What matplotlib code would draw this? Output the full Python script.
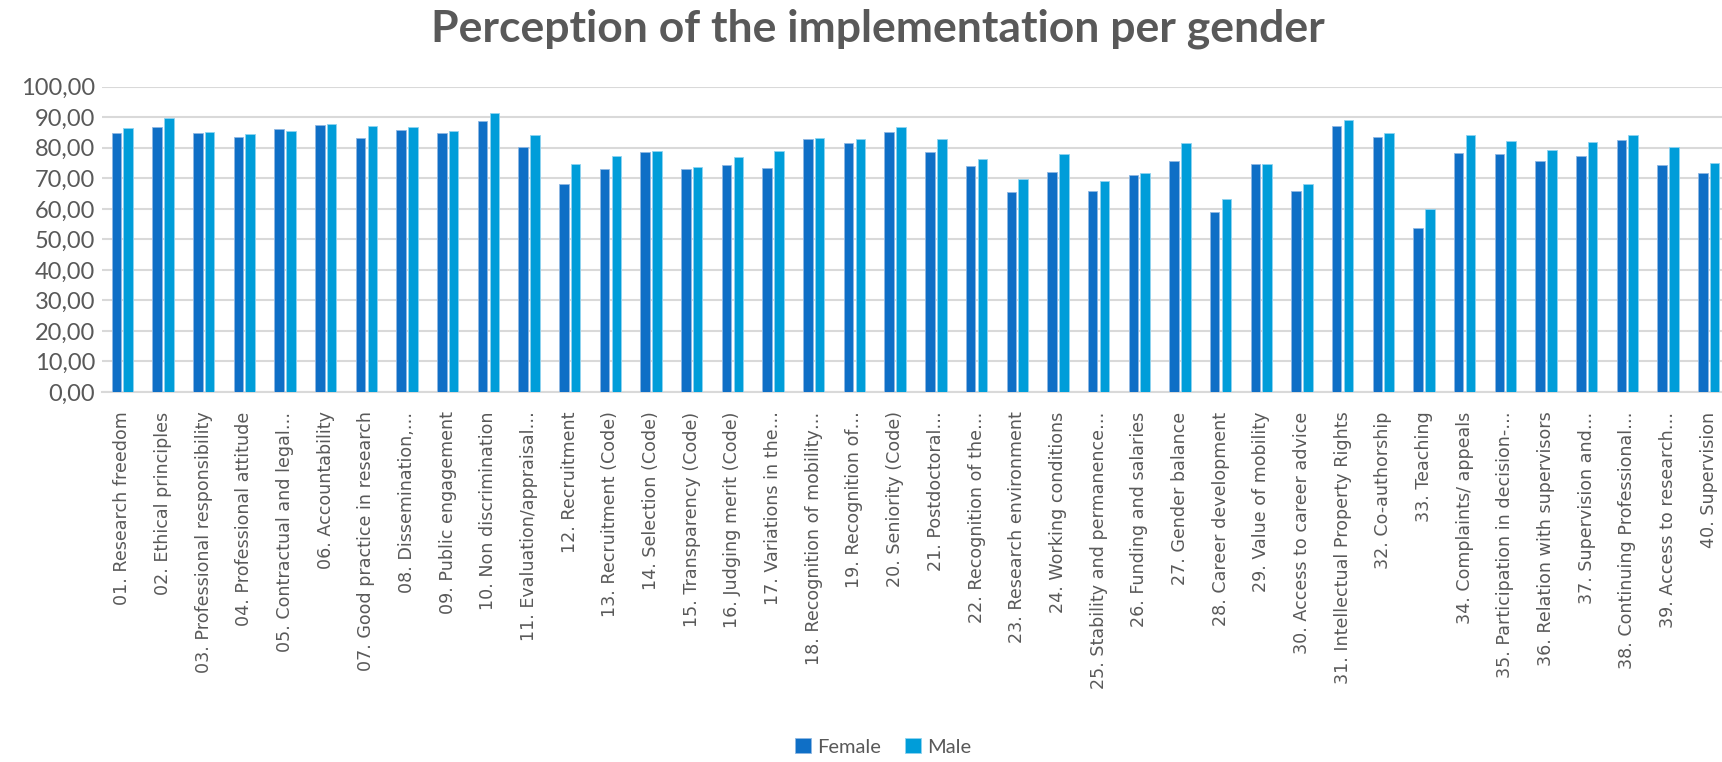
import matplotlib
matplotlib.use('Agg')
import matplotlib.pyplot as plt
import numpy as np

categories = [
    '01. Research freedom', '02. Ethical principles', '03. Professional responsibility',
    '04. Professional attitude', '05. Contractual and legal…', '06. Accountability',
    '07. Good practice in research', '08. Dissemination,…', '09. Public engagement',
    '10. Non discrimination', '11. Evaluation/appraisal…', '12. Recruitment',
    '13. Recruitment (Code)', '14. Selection (Code)', '15. Transparency (Code)',
    '16. Judging merit (Code)', '17. Variations in the…', '18. Recognition of mobility…',
    '19. Recognition of…', '20. Seniority (Code)', '21. Postdoctoral…',
    '22. Recognition of the…', '23. Research environment', '24. Working conditions',
    '25. Stability and permanence…', '26. Funding and salaries', '27. Gender balance',
    '28. Career development', '29. Value of mobility', '30. Access to career advice',
    '31. Intellectual Property Rights', '32. Co-authorship', '33. Teaching',
    '34. Complaints/ appeals', '35. Participation in decision-…', '36. Relation with supervisors',
    '37. Supervision and…', '38. Continuing Professional…', '39. Access to research…',
    '40. Supervision',
]

female = [84.8, 86.9, 84.8, 83.6, 86.3, 87.6, 83.1, 85.9, 84.8, 88.8,
          80.4, 68.0, 73.1, 78.8, 73.1, 74.5, 73.5, 83.0, 81.7, 85.1,
          78.8, 73.9, 65.6, 72.0, 66.0, 71.2, 75.8, 59.1, 74.8, 65.8,
          87.2, 83.6, 53.7, 78.3, 77.9, 75.8, 77.4, 82.7, 74.5, 71.6]
male = [86.5, 89.9, 85.3, 84.5, 85.6, 87.8, 87.2, 86.9, 85.5, 91.5,
        84.3, 74.8, 77.4, 79.1, 73.8, 77.0, 79.0, 83.2, 82.9, 86.9,
        83.0, 76.3, 69.9, 78.1, 69.0, 71.8, 81.6, 63.4, 74.8, 68.2,
        89.1, 84.9, 59.8, 84.2, 82.1, 79.3, 81.9, 84.3, 80.4, 74.9]

grey = '#595959'
fig = plt.figure(figsize=(17.22, 7.62), dpi=100)
ax = fig.add_axes([102 / 1722, 1 - 392 / 762, 1627 / 1722, 305.2 / 762])

x = np.arange(len(categories))
w = 0.235
ax.bar(x - 0.145, female, w, color='#0F6FC6', edgecolor='#8fb8e3', linewidth=0.6, label='Female', zorder=3)
ax.bar(x + 0.145, male, w, color='#009DD9', edgecolor='#8fd3f0', linewidth=0.6, label='Male', zorder=3)

ax.set_xlim(-0.5, len(categories) - 0.5)
ax.set_ylim(0, 100)
ax.set_yticks(np.arange(0, 101, 10))
ax.set_yticklabels([f'{v:.2f}'.replace('.', ',') for v in np.arange(0, 101, 10)],
                   fontfamily='Lato', fontsize=17, color=grey)
ax.set_xticks(x)
ax.set_xticklabels(categories, rotation=90, fontsize=12.6, color=grey, va='top', ha='center')
ax.tick_params(axis='both', length=0)
ax.tick_params(axis='x', pad=14)
ax.tick_params(axis='y', pad=5)
ax.grid(axis='y', color='#d9d9d9', linewidth=1.5, zorder=0)
for s in ['top', 'right', 'left']:
    ax.spines[s].set_visible(False)
ax.spines['bottom'].set_color('#d9d9d9')
ax.spines['bottom'].set_linewidth(1.5)

fig.text(0.51, 0.962, 'Perception of the implementation per gender', ha='center', va='center',
         fontfamily='Lato', fontweight='bold', fontsize=32, color=grey)

fig.legend(loc='center', bbox_to_anchor=(0.513, 0.02), ncol=2, frameon=False,
           prop={'family': 'Lato', 'size': 14.5}, labelcolor=grey,
           handlelength=0.8, handleheight=0.8, handletextpad=0.3, columnspacing=1.2)

fig.savefig('out.png', dpi=100)
